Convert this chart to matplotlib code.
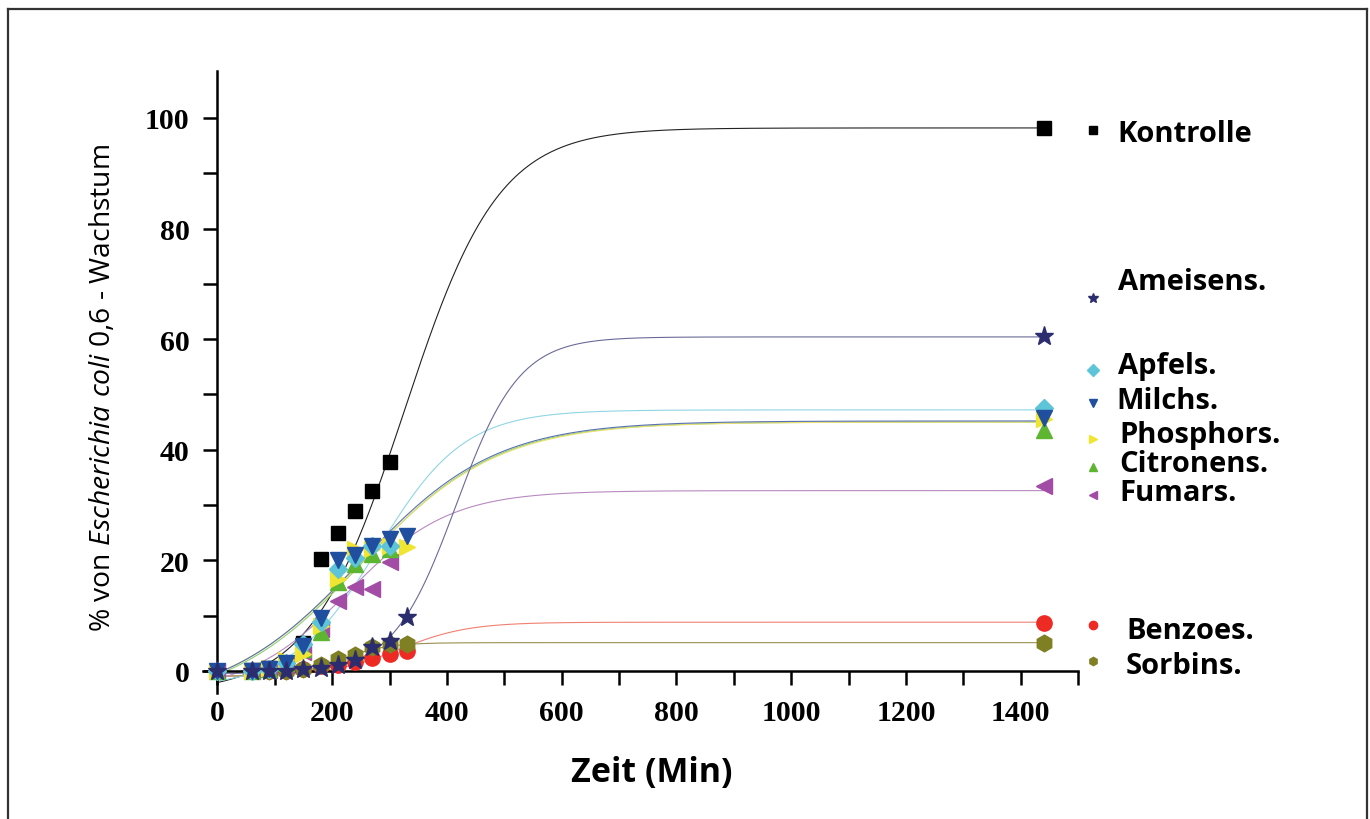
import numpy as np
import matplotlib
matplotlib.use("Agg")
import matplotlib.pyplot as plt
from matplotlib.lines import Line2D
from matplotlib.ticker import MultipleLocator

plt.rcParams["mathtext.fontset"] = "custom"
plt.rcParams["mathtext.it"] = "Open Sans:italic"
plt.rcParams["mathtext.rm"] = "Open Sans"

# Messzeitpunkte (Min)
zeit = [0, 60, 90, 120, 150, 180, 210, 240, 270, 300, 330, 1440]
nan = np.nan

# Messwerte je Säure (% Wachstum), nan = kein Punkt
kontrolle  = [0, 0.2, 0.5, 1.5, 5.0, 20.2, 24.9, 28.9, 32.5, 37.8, nan, 98.2]
ameisens   = [0, 0, 0, 0, 0.3, 0.6, 1.0, 1.9, 4.3, 5.4, 9.7, 60.6]
apfels     = [0, 0, 0.3, 1.5, 4.9, 8.9, 18.4, 20.5, 22.6, 22.6, nan, 47.5]
milchs     = [0, 0, 0.3, 1.5, 4.5, 9.5, 20.1, 21.0, 22.5, 23.8, 24.4, 45.7]
phosphors  = [0, 0, 0.5, 2.0, 3.0, 8.2, 16.6, 22.0, 22.0, 22.5, 22.4, 45.5]
citronens  = [0, 0, 0.3, 1.5, 4.0, 7.0, 16.0, 19.3, 21.1, 22.0, nan, 43.5]
fumars     = [0, 0, 0.2, 1.0, 3.4, 7.5, 12.7, 15.2, 14.8, 19.7, nan, 33.4]
benzoes    = [0, 0, 0, 0, 0.4, 0.8, 1.0, 1.6, 2.3, 3.1, 3.6, 8.7]
sorbins    = [0, 0, 0, 0, 0.3, 1.1, 2.2, 2.9, 4.3, 4.9, 4.9, 5.1]

# Boltzmann-Fit je Reihe: (unten, oben, x0, dx)
fit_kontrolle = (-4, 98.2, 326, 82)
fit_ameisens  = (-0.5, 60.4, 416, 55)
fit_apfels    = (-3, 47.2, 280, 75)
fit_milchs    = (-6, 45.2, 248, 118)
fit_phosphors = (-6, 45.0, 250, 120)
fit_citronens = (-6, 45.0, 252, 117)
fit_fumars    = (-4, 32.6, 228, 88)
fit_benzoes   = (-1, 8.8, 317, 60)
fit_sorbins   = (-1, 5.1, 215, 40)

namen = ["Kontrolle", "Ameisens.", "Apfels.", "Milchs.", "Phosphors.",
         "Citronens.", "Fumars.", "Benzoes.", "Sorbins."]

# name, werte, fit, marker, farbe, linienfarbe, markergroesse
reihen = [
    ("Kontrolle", kontrolle, fit_kontrolle, "s", "#000000", "#222222", 10),
    ("Benzoes.", benzoes, fit_benzoes, "o", "#ee2a24", "#f08070", 11),
    ("Sorbins.", sorbins, fit_sorbins, "h", "#7f7f24", "#9a9050", 12),
    ("Fumars.", fumars, fit_fumars, "<", "#a24ca6", "#b88ac0", 12),
    ("Citronens.", citronens, fit_citronens, "^", "#5db531", "#8fcf70", 12),
    ("Phosphors.", phosphors, fit_phosphors, ">", "#f0e532", "#e8e070", 12),
    ("Apfels.", apfels, fit_apfels, "D", "#5ec4d8", "#8fd6e4", 9),
    ("Milchs.", milchs, fit_milchs, "v", "#1f4f9e", "#5a70b0", 12),
    ("Ameisens.", ameisens, fit_ameisens, "*", "#2b2d6e", "#6a6a98", 14),
]

fig = plt.figure(figsize=(13.7, 8.2), dpi=100)
ax = fig.add_axes([0.1482, 0.1537, 0.6387, 0.7585])

t = np.linspace(0, 1440, 600)
for name, werte, fit, m, c, lc, ms in reihen:
    a1, a2, x0, dx = fit
    ax.plot(t, a2 + (a1 - a2) / (1 + np.exp((t - x0) / dx)), color=lc, lw=0.8, zorder=2)

for name, werte, fit, m, c, lc, ms in reihen:
    ax.plot(zeit, werte, ls="none", marker=m, ms=ms, color=c, mec=c, zorder=3, clip_on=False)

ax.set_xlim(-25, 1500)
ax.set_ylim(-4, 108.5)
ax.spines["top"].set_visible(False)
ax.spines["right"].set_visible(False)
ax.spines["left"].set_position(("data", 0))
ax.spines["bottom"].set_position(("data", 0))
ax.spines["left"].set_linewidth(1.8)
ax.spines["bottom"].set_linewidth(1.8)

ax.xaxis.set_major_locator(MultipleLocator(200))
ax.xaxis.set_minor_locator(MultipleLocator(100))
ax.yaxis.set_major_locator(MultipleLocator(20))
ax.yaxis.set_minor_locator(MultipleLocator(10))
ax.set_xticks(range(0, 1401, 200))
ax.tick_params(which="both", direction="out", length=10, width=1.8, pad=10)
for lab in ax.get_xticklabels() + ax.get_yticklabels():
    lab.set_fontfamily("Liberation Serif")
    lab.set_fontweight("bold")
    lab.set_fontsize(21.5)

fig.text(652 / 1370, 1 - 773 / 820, "Zeit (Min)", family="Open Sans", weight="bold",
         fontsize=24.5, ha="center", va="center")
fig.text(103 / 1370, 1 - 388 / 820,
         "% von $\\it{Escherichia\\ coli}$ 0,6 - Wachstum",
         family="Open Sans", fontsize=20.3, rotation=90, ha="center", va="center")

# Legende (Marker und Text rechts)
farbe = {r[0]: (r[3], r[4]) for r in reihen}
leg_text_y = [134, 283, 367, 402, 436, 465, 494, 632, 667]
leg_mark_y = [131, 299, 371, 404, 440, 468, 496, 626, 662]
leg_text_x = [1117, 1118, 1118, 1116, 1119, 1119, 1119, 1126, 1126]
for name, ty, my, tx in zip(namen, leg_text_y, leg_mark_y, leg_text_x):
    m, c = farbe[name]
    fig.add_artist(Line2D([1093 / 1370], [1 - my / 820], marker=m, ms=6 if m != "*" else 7,
                          color=c, ls="none", transform=fig.transFigure))
    fig.text(tx / 1370, 1 - ty / 820, name, family="Open Sans", weight="bold",
             fontsize=21, ha="left", va="center")

# Rahmen um die Abbildung
for xs, ys in [([8, 8], [10, 820]), ([8, 1367], [10, 10]), ([1367, 1367], [10, 820])]:
    fig.add_artist(Line2D([x / 1370 for x in xs], [1 - y / 820 for y in ys],
                          color="#333333", lw=1.6, transform=fig.transFigure))

fig.savefig("out.png", dpi=100)
